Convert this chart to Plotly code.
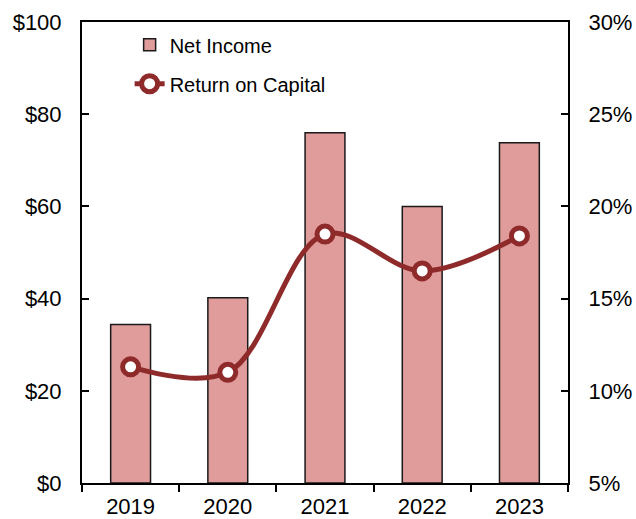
import plotly.graph_objects as go

years = ["2019", "2020", "2021", "2022", "2023"]
net_income = [34.4, 40.2, 76.0, 60.0, 73.8]
return_on_capital = [0.113, 0.110, 0.185, 0.165, 0.184]

BAR_COLOR = "#E09B9B"
LINE_COLOR = "#8E2A2A"
FONT = "Liberation Sans, Arial, sans-serif"

fig = go.Figure()
fig.add_trace(go.Bar(
    x=years, y=net_income, name="Net Income",
    marker=dict(color=BAR_COLOR, line=dict(color="#1a1a1a", width=1.5)),
    width=0.41, legendgroup="a",
))
fig.add_trace(go.Scatter(
    x=years, y=return_on_capital, name="Return on Capital", yaxis="y2",
    mode="lines+markers",
    line=dict(color=LINE_COLOR, width=5, shape="spline", smoothing=1.0),
    marker=dict(size=16, color="white", line=dict(color=LINE_COLOR, width=5)),
    legendgroup="b",
))

fig.update_layout(
    width=636, height=519,
    margin=dict(l=82, r=68, t=22, b=36, autoexpand=False),
    paper_bgcolor="white", plot_bgcolor="white",
    font=dict(family=FONT, size=22, color="black"),
    showlegend=True,
    legend=dict(x=0.098, y=0.993, xanchor="left", yanchor="top",
                font=dict(size=20), bgcolor="rgba(0,0,0,0)",
                tracegroupgap=10, traceorder="grouped"),
    xaxis=dict(
        type="category", showline=True, linecolor="black", linewidth=2,
        mirror=True, ticks="outside", ticklen=7, tickwidth=1.5, tickcolor="black",
        tickson="boundaries", showgrid=False, ticklabelstandoff=3, automargin=False,
    ),
    yaxis=dict(
        range=[0, 100], dtick=20, tickprefix="$", showgrid=False, zeroline=False,
        showline=True, linecolor="black", linewidth=2,
        ticks="inside", ticklen=7, tickwidth=1.5, tickcolor="black",
        ticklabelstandoff=14, automargin=False,
    ),
    yaxis2=dict(
        range=[0.05, 0.30], dtick=0.05, tickformat=".0%", overlaying="y",
        side="right", showgrid=False, zeroline=False,
        showline=True, linecolor="black", linewidth=2,
        ticks="inside", ticklen=7, tickwidth=1.5, tickcolor="black",
        ticklabelstandoff=14, automargin=False,
    ),
)

fig.write_html("out.html")
